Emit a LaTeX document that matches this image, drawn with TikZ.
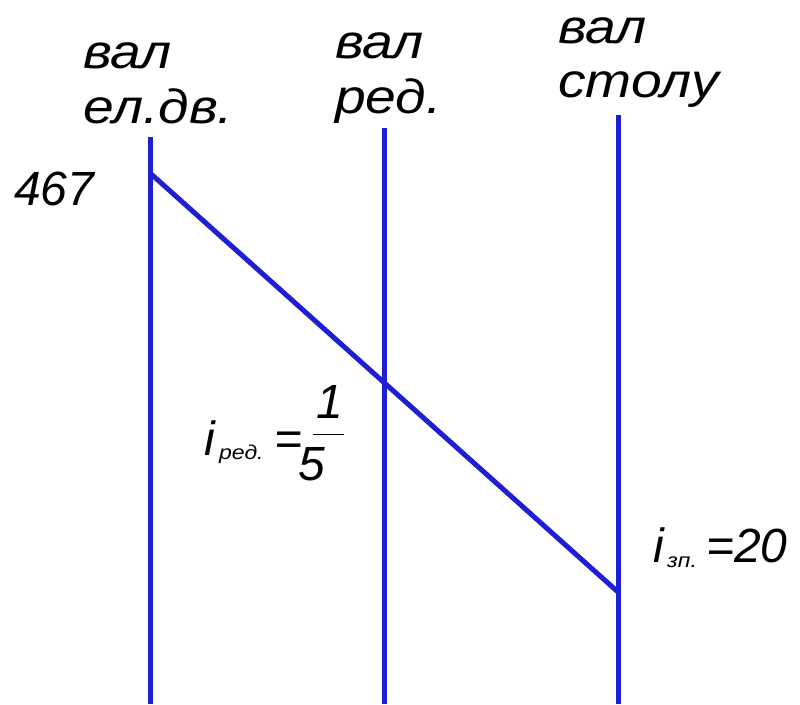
\documentclass[tikz,border=0pt]{standalone}
\usepackage{fontspec}
\setmainfont{Liberation Sans}
\newfontfamily\widesans[FakeStretch=1.15]{Liberation Sans}
\usepackage{tikz}
\usetikzlibrary{positioning}
\definecolor{shaftblue}{HTML}{1E1ED2}
\tikzset{
  shaft/.style={draw=shaftblue,line width=5pt},
  lbl/.style={anchor=base west,inner sep=0pt,font=\fontsize{48}{55}\selectfont\itshape},
  word/.style={anchor=base west,inner sep=0pt,font=\widesans\fontsize{48}{55}\selectfont\itshape},
  sub/.style={anchor=base west,inner sep=0pt,font=\widesans\fontsize{20}{24}\selectfont\itshape},
}
\begin{document}
\begin{tikzpicture}[x=1pt,y=-1pt]
\useasboundingbox (0,0) rectangle (800,704);
% shaft tops and bottoms
\coordinate (m0) at (150,137);
\coordinate (r0) at (384,128);
\coordinate (s0) at (618,115);
\coordinate (m1) at (150,704);
\coordinate (r1) at (384,704);
\coordinate (s1) at (618,704);
\coordinate (mp) at (150,173);
\coordinate (sp) at (618,592);
\draw[shaft] (m0) -- (m1);
\draw[shaft] (r0) -- (r1);
\draw[shaft] (s0) -- (s1);
\draw[shaft] (mp) -- (sp);
% labels
\node[word] (ma) at (83,68) {вал};
\node[word] (mb) at (83,123) {ел.дв.};
\node[word] (ra) at (335,58) {вал};
\node[word] (rb) at (335,113) {ред.};
\node[word] (sa) at (558,43) {вал};
\node[word] (sb) at (558,97) {столу};
\node[lbl] (n) at (14,205) {467};
% reducer ratio
\node[lbl] (ir) at (204,455) {i};
\node[sub] (irs) at (219,459) {ред.};
\node[lbl] (ire) at (274,455) {=};
\node[lbl] (irn) at (316,418) {1};
\node[lbl] (ird) at (298,480) {5};
\draw[line width=1pt] (313,434) -- (344,434);
% spindle ratio
\node[lbl] (iz) at (653,562) {i};
\node[sub] (izs) at (667,567) {зп.};
\node[lbl] (ize) at (706,562) {=20};
\end{tikzpicture}
\end{document}
